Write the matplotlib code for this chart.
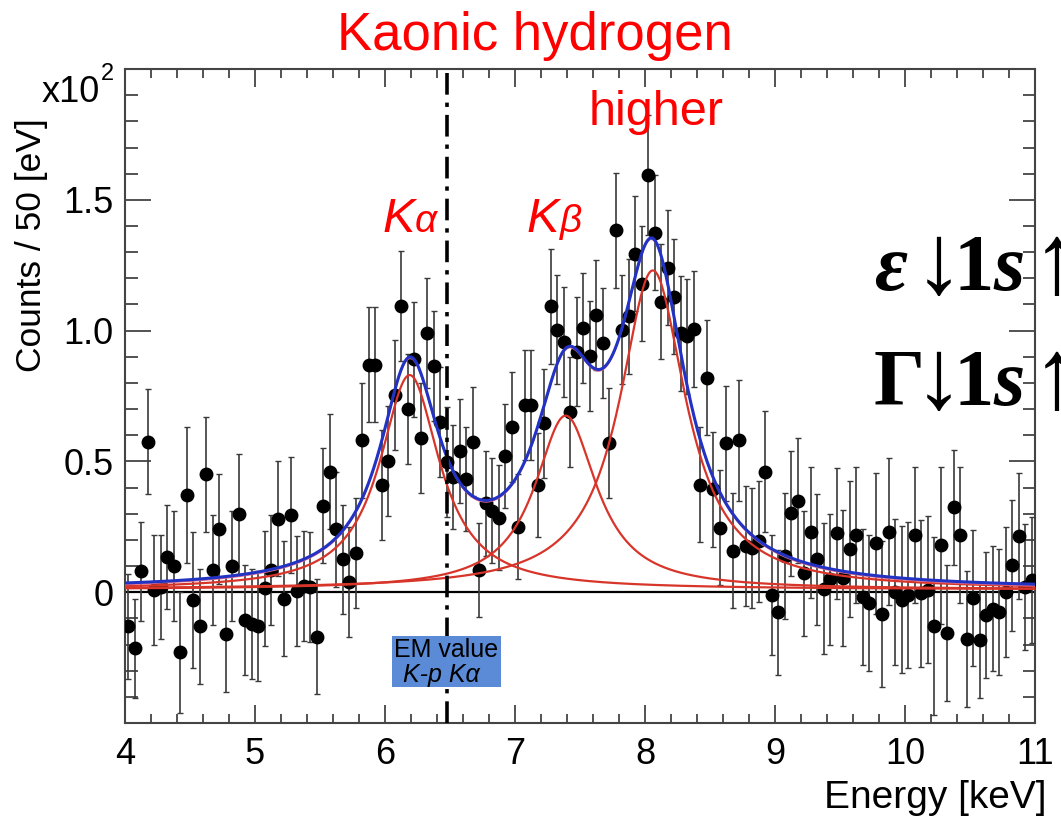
import numpy as np
import matplotlib
matplotlib.use("Agg")
import matplotlib.pyplot as plt
from matplotlib.ticker import MultipleLocator
from matplotlib.patches import Rectangle

plt.rcParams['font.family'] = ['Liberation Sans', 'DejaVu Sans']

# kaonic hydrogen spectrum, 50 eV bins between 4 and 11 keV, counts x10^2
bin_lo = 4.0
bin_width = 0.05
counts = [
    -0.13, -0.215, 0.08, 0.575, 0.008, 0.02, 0.135, 0.10, -0.23, 0.37,
    -0.03, -0.13, 0.45, 0.085, 0.24, -0.16, 0.10, 0.30, -0.105, -0.12,
    -0.13, 0.015, 0.085, 0.28, -0.025, 0.295, 0.005, 0.025, 0.02, -0.17,
    0.33, 0.46, 0.24, 0.125, 0.04, 0.15, 0.58, 0.87, 0.87, 0.41,
    0.50, 0.755, 1.093, 0.70, 0.89, 0.59, 0.99, 0.866, 0.65, 0.497,
    0.44, 0.54, 0.433, 0.576, 0.085, 0.34, 0.312, 0.285, 0.52, 0.63,
    0.25, 0.716, 0.716, 0.41, 0.645, 1.093, 1.004, 0.955, 0.69, 0.92,
    1.01, 0.904, 1.06, 0.953, 0.57, 1.383, 1.004, 1.055, 1.294, 1.18,
    1.595, 1.374, 1.11, 1.24, 1.13, 0.99, 0.978, 1.006, 0.41, 0.82,
    0.393, 0.246, 0.569, 0.159, 0.58, 0.176, 0.169, 0.194, 0.461, -0.011,
    -0.077, 0.139, 0.301, 0.35, 0.072, 0.229, 0.125, 0.014, 0.049, 0.225,
    0.056, 0.166, 0.218, -0.018, -0.042, 0.187, -0.083, 0.232, 0.0, -0.028,
    -0.01, 0.218, -0.005, 0.01, -0.13, 0.18, -0.156, 0.324, 0.218, -0.178,
    -0.024, -0.184, -0.088, -0.063, -0.075, 0.001, 0.103, 0.215, 0.02, 0.046,
]
errors = [
    0.20, 0.19, 0.19, 0.20, 0.21, 0.20, 0.20, 0.21, 0.23, 0.26,
    0.26, 0.22, 0.22, 0.21, 0.21, 0.22, 0.21, 0.23, 0.21, 0.21,
    0.21, 0.22, 0.21, 0.22, 0.22, 0.22, 0.21, 0.21, 0.21, 0.22,
    0.22, 0.22, 0.22, 0.21, 0.21, 0.21, 0.22, 0.22, 0.22, 0.21,
    0.21, 0.21, 0.21, 0.21, 0.22, 0.21, 0.21, 0.21, 0.21, 0.21,
    0.20, 0.20, 0.20, 0.21, 0.18, 0.20, 0.20, 0.20, 0.20, 0.21,
    0.20, 0.21, 0.21, 0.20, 0.21, 0.22, 0.21, 0.21, 0.21, 0.21,
    0.21, 0.21, 0.21, 0.21, 0.21, 0.22, 0.21, 0.22, 0.22, 0.22,
    0.23, 0.22, 0.22, 0.22, 0.22, 0.22, 0.22, 0.22, 0.22, 0.22,
    0.22, 0.22, 0.22, 0.22, 0.23, 0.23, 0.23, 0.23, 0.23, 0.23,
    0.24, 0.24, 0.24, 0.24, 0.24, 0.25, 0.25, 0.25, 0.25, 0.25,
    0.26, 0.26, 0.26, 0.26, 0.26, 0.27, 0.28, 0.28, 0.28, 0.28,
    0.28, 0.26, 0.28, 0.28, 0.34, 0.30, 0.26, 0.22, 0.26, 0.26,
    0.26, 0.22, 0.24, 0.24, 0.24, 0.25, 0.25, 0.24, 0.24, 0.24,
]
energy = bin_lo + bin_width * (np.arange(len(counts)) + 0.5)

# fitted lines: Ka, Kb, higher transitions (centre keV, height x10^2, half width keV)
peak_centers = [6.19, 7.39, 8.06]
peak_heights = [0.82, 0.665, 1.22]
peak_widths = [0.28, 0.29, 0.31]
background = 0.01

em_value = 6.48  # electromagnetic K-p Ka energy

xx = np.linspace(4.0, 11.0, 1400)
parts = []
for c, h, w in zip(peak_centers, peak_heights, peak_widths):
    parts.append(h / (1.0 + ((xx - c) / w) ** 2))
total = sum(parts) + background

fig = plt.figure(figsize=(10.61, 8.16), dpi=100)
ax = fig.add_axes([0.1178, 0.114, 0.8577, 0.8014])

ax.errorbar(energy, counts, yerr=errors, fmt='o', color='black', ms=9,
            ecolor='#3a3a3a', elinewidth=1.2, capsize=2.2, capthick=1.0, zorder=3)
ax.axhline(0, color='black', lw=1.6, zorder=2)
for p in parts:
    ax.plot(xx, p + background, color='#d8352a', lw=1.6, zorder=4)
ax.plot(xx, total - 0.006, color='#e8708a', lw=1.0, zorder=4)
ax.plot(xx, total, color='#2233c4', lw=2.2, zorder=5)
ax.axvline(em_value, color='black', lw=2.6, ls=(0, (6, 2.2, 1.2, 2.2)), zorder=6)

ax.set_xlim(4, 11)
ax.set_ylim(-0.5, 2.0)
ax.xaxis.set_major_locator(MultipleLocator(1))
ax.xaxis.set_minor_locator(MultipleLocator(0.2))
ax.set_yticks([0, 0.5, 1.0, 1.5])
ax.set_yticklabels(['0', '0.5', '1.0', '1.5'])
ax.yaxis.set_minor_locator(MultipleLocator(0.1))
ax.tick_params(which='both', direction='in', top=True, right=True,
               color='#444444', width=1.3, labelsize=26)
ax.tick_params(axis='x', which='major', length=13, pad=10)
ax.tick_params(axis='x', which='minor', length=6.5)
ax.tick_params(axis='y', which='major', length=19, pad=8)
ax.tick_params(axis='y', which='minor', length=9)
for s in ax.spines.values():
    s.set_color('#444444')
    s.set_linewidth(1.5)

W, H = 1061.0, 816.0
fig.text(32 / W, 1 - 245 / H, 'Counts / 50 [eV]', rotation=90, fontsize=25.5,
         ha='center', va='center')
fig.text(100 / W, 1 - 102 / H, 'x10', fontsize=26, ha='right', va='baseline')
fig.text(101 / W, 1 - 80 / H, '2', fontsize=17, ha='left', va='baseline')
fig.text(1046 / W, 1 - 808 / H, 'Energy [keV]', fontsize=28, ha='right', va='baseline')

fig.text(535 / W, 1 - 50 / H, 'Kaonic hydrogen', fontsize=38, color='red',
         ha='center', va='baseline')
fig.text(656 / W, 1 - 125 / H, 'higher', fontsize=35, color='red',
         ha='center', va='baseline')
fig.text(383 / W, 1 - 232 / H, 'K', fontsize=35, color='red', style='italic',
         va='baseline')
fig.text(415 / W, 1 - 232 / H, 'α', fontsize=28, color='red', style='italic',
         va='baseline')
fig.text(526 / W, 1 - 232 / H, 'K', fontsize=35, color='red', style='italic',
         va='baseline')
fig.text(560 / W, 1 - 232 / H, 'β', fontsize=28, color='red', style='italic',
         va='baseline')

# EM value marker box
ax.add_patch(Rectangle((0.2934, 0.055), 0.1198, 0.078, transform=ax.transAxes,
                       facecolor='#5b8bd6', edgecolor='none', zorder=7))
fig.text(446 / W, 1 - 657 / H, 'EM value', fontsize=18, ha='center',
         va='baseline', zorder=8)
fig.text(441 / W, 1 - 682 / H, 'K-p Kα', fontsize=18, style='italic',
         ha='center', va='baseline', zorder=8)

# partial equation overlay at the right edge (cut off by the picture border,
# as in the original slide)
serif = ['Liberation Serif', 'DejaVu Serif']
for sym, line_y in (('ε', 290), ('Γ', 405)):
    first_style = 'italic' if sym == 'ε' else 'normal'
    fig.text(874 / W, 1 - line_y / H, sym, fontsize=58, fontweight='bold',
             style=first_style, family=serif, va='baseline', zorder=10)
    fig.text(914 / W, 1 - (line_y + 3) / H, '↓', fontsize=72,
             family=serif, va='baseline', zorder=10)
    fig.text(953 / W, 1 - line_y / H, '1', fontsize=58, fontweight='bold',
             family=serif, va='baseline', zorder=10)
    fig.text(993 / W, 1 - line_y / H, 's', fontsize=58, fontweight='bold',
             style='italic', family=serif, va='baseline', zorder=10)
    fig.text(1032 / W, 1 - (line_y + 3) / H, '↑', fontsize=72,
             family=serif, va='baseline', zorder=10)

fig.savefig('out.png', dpi=100)
